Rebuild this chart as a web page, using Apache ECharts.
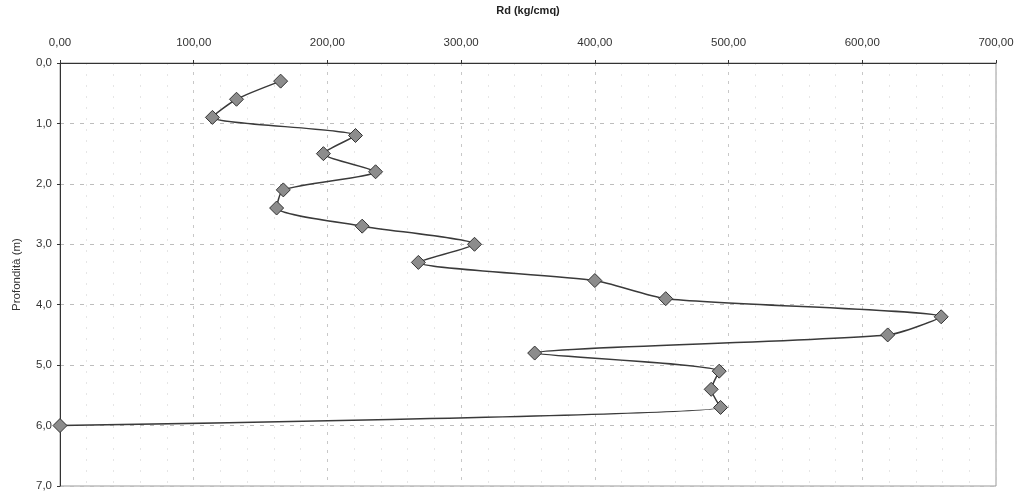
<!DOCTYPE html>
<html>
<head>
<meta charset="utf-8">
<script src="https://cdn.jsdelivr.net/npm/echarts@6/dist/echarts.min.js"></script>
<style>
  html, body { margin: 0; padding: 0; background: #fff; }
  #chart { width: 1022px; height: 494px; }
</style>
</head>
<body>
<div id="chart"></div>
<script>
// Penetrometer profile: dynamic resistance Rd versus depth
const depths = [0.3, 0.6, 0.9, 1.2, 1.5, 1.8, 2.1, 2.4, 2.7, 3.0, 3.3, 3.6, 3.9, 4.2, 4.5, 4.8, 5.1, 5.4, 5.7, 6.0];
const rdValues = [165, 132, 114, 221, 197, 236, 167, 162, 226, 310, 268, 400, 453, 659, 619, 355, 493, 487, 494, 0];
const xTicks = { min: 0, max: 700, step: 100 };
const yTicks = { min: 0, max: 7, step: 1 };

const points = depths.map((d, i) => [rdValues[i], d]);
const fmt = (v, n) => v.toFixed(n).replace('.', ',');
const font = 'Liberation Sans, Arial, sans-serif';

const chart = echarts.init(document.getElementById('chart'));
chart.setOption({
  animation: false,
  backgroundColor: '#ffffff',
  grid: { left: 60, right: 26, top: 61, bottom: 8, show: true, borderColor: '#9a9a9a', borderWidth: 1 },
  xAxis: {
    type: 'value',
    position: 'top',
    min: xTicks.min, max: xTicks.max, interval: xTicks.step,
    name: 'Rd (kg/cmq)',
    nameLocation: 'middle',
    nameGap: 47,
    nameTextStyle: { fontFamily: font, fontSize: 11, color: '#222', fontWeight: 'bold' },
    axisLine: { show: true, onZero: false, lineStyle: { color: '#333', width: 1 } },
    axisTick: { show: true, inside: false, length: 3, lineStyle: { color: '#333' } },
    axisLabel: { fontFamily: font, fontSize: 11.5, color: '#333', margin: 14, formatter: v => fmt(v, 2) },
    splitLine: { show: true, lineStyle: { color: '#c8c8c8', type: [3, 6], width: 1 } },
    minorTick: { show: false, splitNumber: 5 },
    minorSplitLine: { show: true, lineStyle: { color: '#e6e6e6', type: [2, 9], width: 1 } }
  },
  yAxis: {
    type: 'value',
    inverse: true,
    min: yTicks.min, max: yTicks.max, interval: yTicks.step,
    name: 'Profondità (m)',
    nameLocation: 'middle',
    nameGap: 37,
    nameRotate: 90,
    nameTextStyle: { fontFamily: font, fontSize: 11.5, color: '#333' },
    axisLine: { show: true, onZero: false, lineStyle: { color: '#333', width: 1 } },
    axisTick: { show: true, length: 3, lineStyle: { color: '#333' } },
    axisLabel: { fontFamily: font, fontSize: 11.5, color: '#333', margin: 8, formatter: v => fmt(v, 1) },
    splitLine: { show: true, lineStyle: { color: '#bdbdbd', type: [4, 6], width: 1 } }
  },
  series: [{
    type: 'line',
    data: points,
    smooth: 0.22,
    symbol: 'diamond',
    symbolSize: 14,
    lineStyle: { color: '#3a3a3a', width: 1.5 },
    itemStyle: { color: '#8c8c8c', borderColor: '#333', borderWidth: 1 }
  }]
});
</script>
</body>
</html>
